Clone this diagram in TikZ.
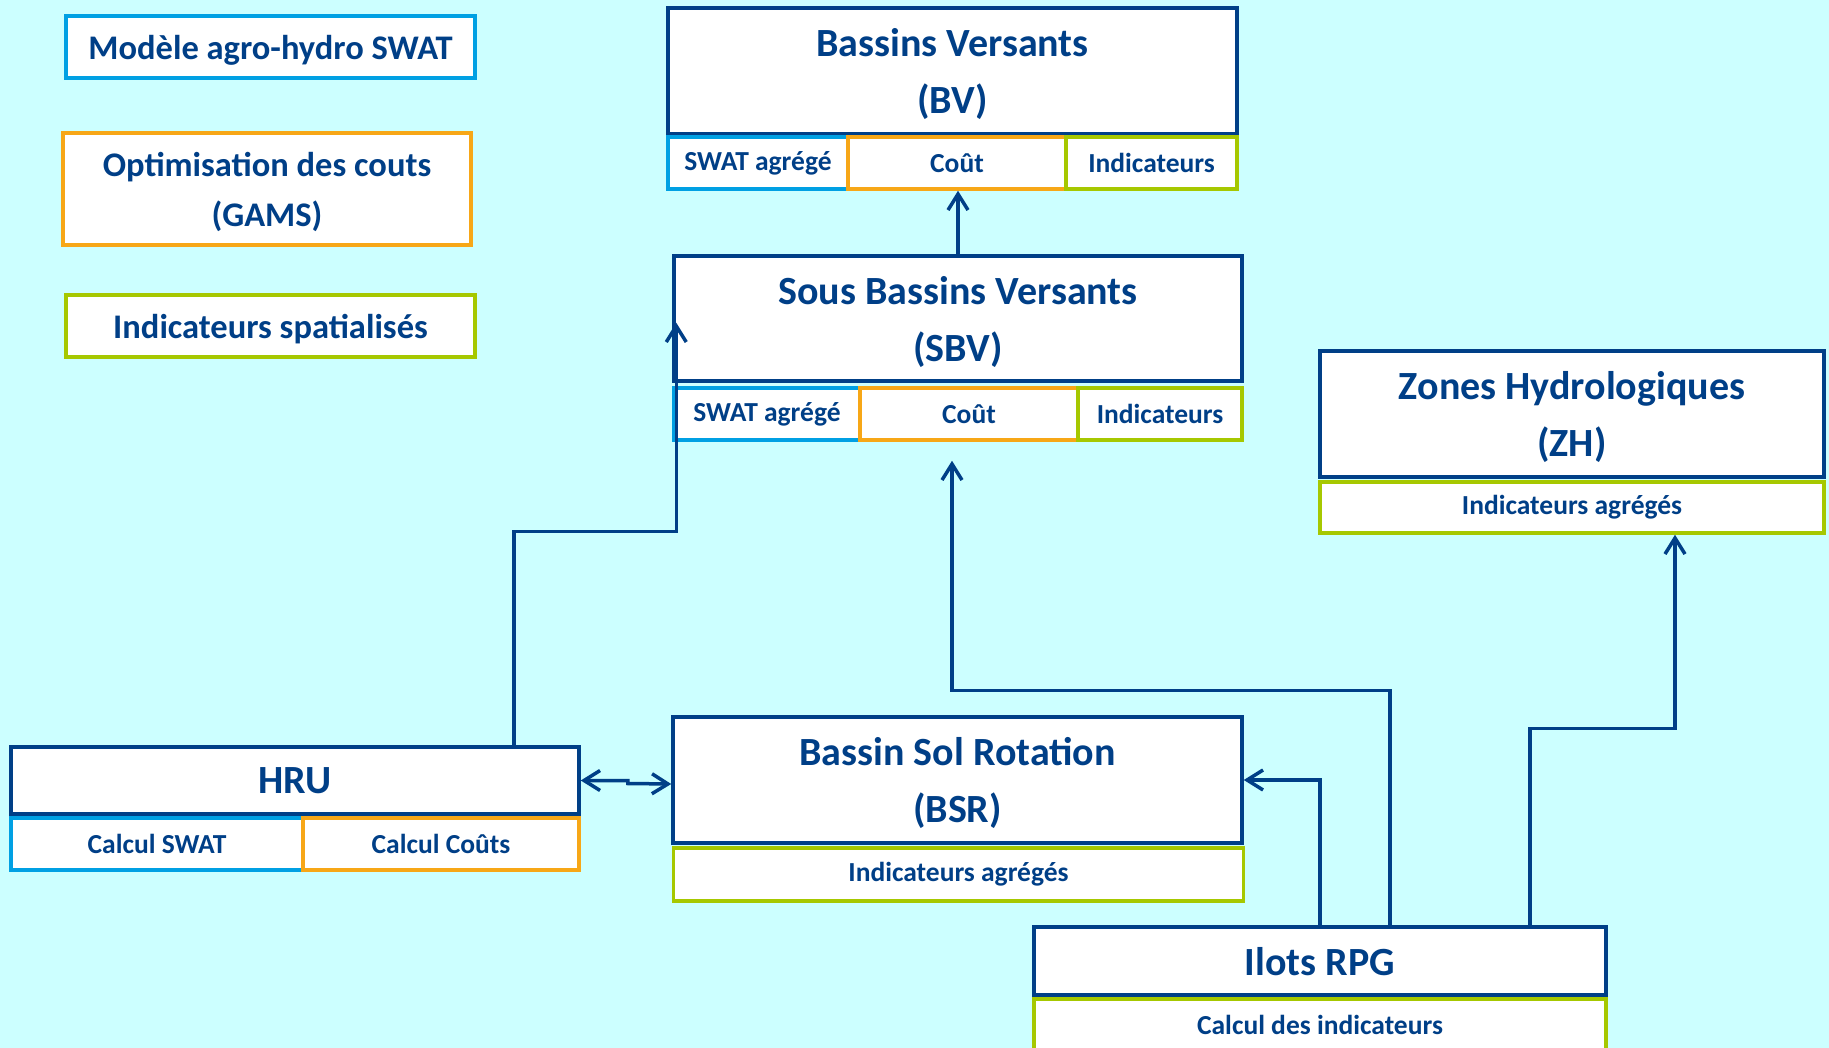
\documentclass[tikz,border=0pt]{standalone}
\usepackage{fontspec}
\setmainfont{Carlito}
\usetikzlibrary{positioning, arrows.meta, calc}

\definecolor{fond}{RGB}{204,255,255}
\definecolor{bleu}{RGB}{0,63,135}
\definecolor{swat}{RGB}{0,160,227}
\definecolor{cout}{RGB}{247,167,23}
\definecolor{indic}{RGB}{166,200,0}

\begin{document}
\begin{tikzpicture}[x=1pt, y=-1pt, >={Straight Barb[length=16pt, width=20pt]},
  bloc/.style={draw=bleu, line width=3.5pt, fill=white, text=bleu, align=center, inner sep=0pt, text depth=0pt, font=\bfseries\fontsize{40}{57}\selectfont},
  cellule/.style={draw=#1, line width=3.5pt, fill=white, text=bleu, inner sep=0pt, minimum height=52pt, font=\bfseries\fontsize{27.5}{32}\selectfont},
  legende/.style={draw=#1, line width=3.5pt, fill=white, text=bleu, align=center, inner sep=0pt, text depth=0pt, font=\bfseries\fontsize{34.5}{50}\selectfont},
  fleche/.style={draw=bleu, line width=3.5pt}]
  \path[use as bounding box] (0,0) rectangle (1829,1048);
  \clip (0,0) rectangle (1829,1048);
  \fill[fond] (0,0) rectangle (1829,1048);

  \node[legende=swat, minimum width=409pt, minimum height=62pt] (lswat) at (270.5,47) {Modèle agro-hydro SWAT};
  \node[legende=cout, minimum width=408pt, minimum height=112pt] (lgams) at (267,189) {Optimisation des couts\\(GAMS)};
  \node[legende=indic, minimum width=409pt, minimum height=62pt] (lind) at (270.5,326) {Indicateurs spatialisés};

  \node[bloc, minimum width=569pt, minimum height=126pt] (bv) at (952.5,71) {Bassins Versants\\(BV)};
  \node[cellule=swat, minimum width=180pt] (bvs) at (758,163) {SWAT agrégé};
  \node[cellule=cout, minimum width=218pt] (bvc) at (957,163) {Coût};
  \node[cellule=indic, minimum width=171pt] (bvi) at (1151.5,163) {Indicateurs};

  \node[bloc, minimum width=568pt, minimum height=125pt] (sbv) at (958,318.5) {Sous Bassins Versants\\(SBV)};
  \node[cellule=swat, minimum width=186pt] (sbvs) at (767,414) {SWAT agrégé};
  \node[cellule=cout, minimum width=218pt] (sbvc) at (969,414) {Coût};
  \node[cellule=indic, minimum width=164pt] (sbvi) at (1160,414) {Indicateurs};

  \node[bloc, minimum width=504pt, minimum height=126pt] (zh) at (1572,414) {Zones Hydrologiques\\(ZH)};
  \node[cellule=indic, minimum width=504pt, minimum height=51pt] (zhi) at (1572,507.5) {Indicateurs agrégés};

  \node[bloc, minimum width=569pt, minimum height=126pt] (bsr) at (957.5,780) {Bassin Sol Rotation\\(BSR)};
  \node[cellule=indic, minimum width=570pt, minimum height=53pt] (bsri) at (958.5,874.5) {Indicateurs agrégés};

  \node[bloc, minimum width=568pt, minimum height=67pt] (hru) at (295,780.5) {HRU};
  \node[cellule=swat, minimum width=292pt] (hrus) at (157,844) {Calcul SWAT};
  \node[cellule=cout, minimum width=276pt] (hruc) at (441,844) {Calcul Coûts};

  \node[bloc, minimum width=572pt, minimum height=68pt] (ilots) at (1320,961) {Ilots RPG};
  \node[cellule=indic, minimum width=572pt] (ilotsi) at (1320,1025) {Calcul des indicateurs};

  \coordinate (sbvin) at ($(sbv.south west)+(4,-60)$);

  \draw[fleche, ->] (sbv.north) -- (sbv.north |- bvc.south);
  \draw[fleche, ->] ($(hru.north)+(219,0)$) -- ++(0,-214) -| (sbvin);
  \draw[fleche, ->] ($(ilots.north)+(70,0)$) -- ++(0,-235) -| ($(sbvc.south)+(-17,19)$);
  \draw[fleche, ->] (ilots.north) |- (bsr.east);
  \draw[fleche, ->] ($(ilots.north)+(210,0)$) -- ++(0,-197) -| ($(zhi.south)+(103,0)$);
  \draw[fleche, <->] (hru.east) -- ++(47,0) -- ++(0,3) -- ($(bsr.west)+(0,4)$);
\end{tikzpicture}
\end{document}
